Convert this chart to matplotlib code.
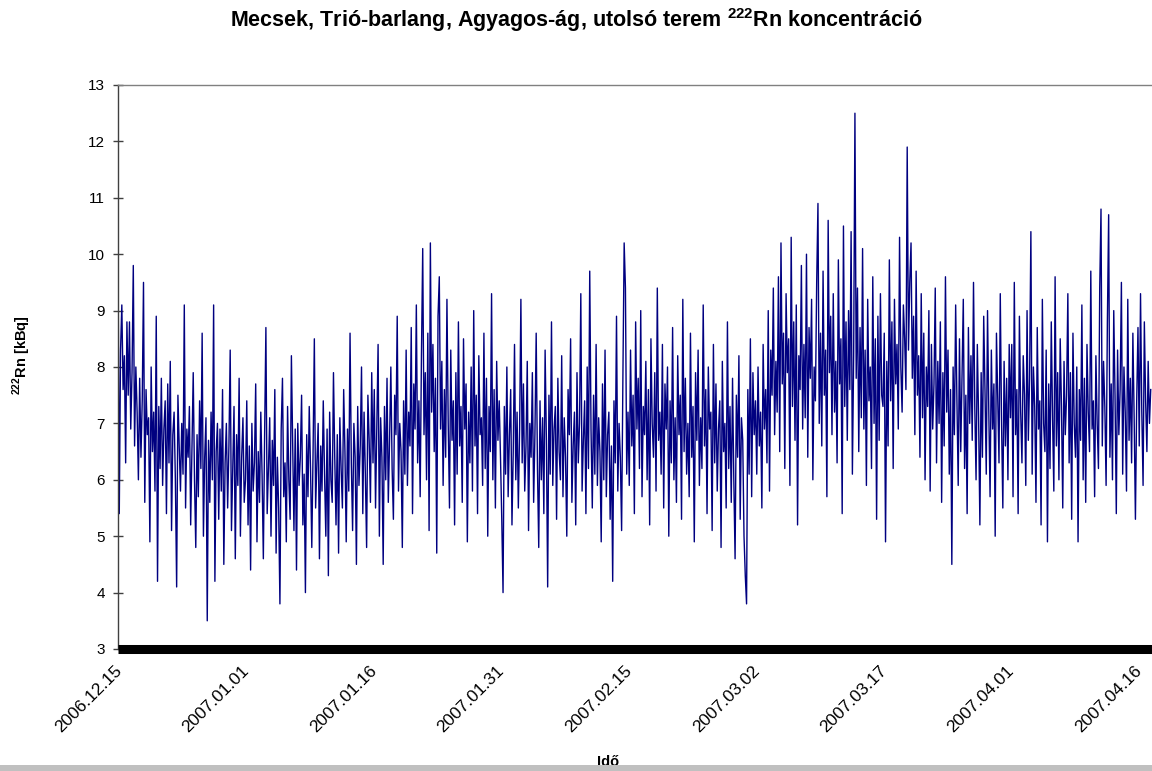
import numpy as np
import matplotlib
matplotlib.use('Agg')
import matplotlib.pyplot as plt
import matplotlib.transforms as mtransforms
from matplotlib.patches import Rectangle

plt.rcParams['font.family'] = ['Liberation Sans', 'DejaVu Sans']
plt.rcParams['mathtext.fontset'] = 'custom'
plt.rcParams['mathtext.rm'] = 'Liberation Sans'
plt.rcParams['mathtext.bf'] = 'Liberation Sans:bold'

# 222Rn [kBq], egy tömb a két címkézett dátum közötti szakaszonként
dec15_jan01 = [10.0, 5.4, 8.3, 9.1, 7.6, 8.2, 6.3, 8.8, 7.5, 8.8, 6.9, 7.9, 9.8, 6.6, 8.0, 7.2, 6.0, 7.8, 6.4, 7.4,
               9.5, 5.6, 7.6, 6.8, 7.1, 4.9, 8.0, 6.5, 7.2, 5.8, 8.9, 4.2, 7.3, 6.2, 7.8, 5.9, 6.9, 7.4, 5.4, 7.7,
               6.3, 8.1, 5.1, 6.8, 7.2, 6.0, 4.1, 7.5, 6.6, 5.8, 7.0, 6.1, 9.1, 5.5, 6.9, 6.4, 7.3, 5.2, 6.6, 7.9,
               6.0, 4.8, 6.8, 5.7, 7.4, 6.2, 8.6, 5.0, 6.4, 7.1, 3.5, 6.7, 5.6, 7.2, 6.0, 9.1, 4.2, 6.5, 7.0, 5.3,
               6.9, 5.8, 7.6, 4.5, 6.3, 7.0, 5.5, 6.6, 8.3, 5.1, 6.2, 7.3, 4.6, 6.8, 5.9, 7.8, 5.0, 6.4, 7.1, 5.6]
jan01_jan16 = [6.0, 7.4, 5.2, 6.6, 4.4, 7.0, 5.8, 6.3, 7.7, 4.9, 6.5, 5.6, 7.2, 6.1, 4.6, 6.8, 8.7, 5.4, 6.2, 7.1,
               5.0, 6.7, 5.9, 7.6, 4.7, 6.4, 5.5, 3.8, 6.9, 7.8, 5.7, 6.3, 4.9, 7.3, 6.0, 5.3, 8.2, 6.6, 5.1, 6.9,
               4.4, 7.0, 5.9, 6.4, 7.5, 5.2, 6.1, 4.0, 6.8, 5.7, 7.3, 6.2, 4.8, 6.5, 8.5, 5.5, 6.3, 7.0, 4.6, 6.6,
               5.8, 7.4, 6.1, 5.0, 6.9, 4.3, 7.2, 6.0, 5.6, 7.9, 6.4, 5.2, 6.8, 4.7, 7.1, 6.2, 5.5, 7.6, 6.5, 4.9,
               6.9, 5.8, 8.6, 6.3, 5.1, 7.0, 6.4, 4.5, 7.3, 5.9, 6.6, 8.0, 5.4, 7.2, 6.1, 4.8, 7.5, 6.7, 5.6, 7.9]
jan16_jan31 = [6.3, 7.6, 5.5, 6.9, 8.4, 5.0, 7.1, 6.4, 4.5, 7.3, 6.0, 7.8, 5.6, 6.7, 8.0, 6.2, 5.3, 7.5, 6.8, 8.9,
               5.8, 7.0, 6.5, 4.8, 7.4, 6.1, 8.3, 5.9, 7.2, 6.6, 8.7, 5.4, 7.7, 6.9, 9.1, 6.3, 7.4, 5.7, 8.2, 10.1,
               6.8, 7.9, 6.0, 8.6, 5.1, 10.2, 7.2, 8.4, 6.5, 7.8, 4.7, 8.9, 9.6, 6.9, 8.1, 5.9, 7.6, 6.4, 9.2, 7.0,
               5.5, 8.3, 6.7, 7.4, 5.2, 7.9, 6.1, 8.8, 6.6, 7.3, 5.6, 8.5, 6.9, 7.7, 4.9, 7.2, 6.3, 8.0, 5.8, 9.0,
               6.6, 7.5, 5.4, 8.2, 6.8, 7.1, 5.9, 8.6, 6.2, 7.8, 5.0, 7.3, 6.5, 9.3, 6.0, 7.6, 5.5, 8.1, 6.7, 7.4]
jan31_feb15 = [6.4, 5.3, 4.0, 7.3, 6.1, 8.0, 5.7, 6.8, 7.6, 5.2, 6.5, 8.4, 6.0, 7.2, 5.5, 6.9, 9.2, 6.3, 7.7, 5.8,
               6.6, 8.1, 5.1, 7.0, 6.4, 7.9, 5.6, 6.8, 8.6, 6.2, 4.8, 7.4, 6.0, 7.1, 5.4, 8.3, 6.7, 4.1, 7.5, 6.1,
               8.8, 5.9, 6.9, 7.3, 5.3, 7.8, 6.5, 6.0, 8.2, 5.7, 7.1, 6.4, 5.0, 7.6, 6.8, 8.5, 5.6, 6.6, 7.2, 5.2,
               7.9, 6.3, 7.0, 9.3, 5.8, 6.7, 7.4, 5.4, 8.0, 6.2, 9.7, 6.9, 5.5, 7.5, 6.1, 8.4, 5.9, 7.1, 6.5, 4.9,
               7.7, 6.0, 8.3, 5.7, 6.8, 7.2, 5.3, 6.6, 4.2, 7.4, 6.3, 8.9, 5.8, 7.0, 6.4, 5.1, 7.8, 10.2, 9.4, 6.1]
feb15_mar02 = [7.2, 5.9, 8.3, 6.6, 7.5, 5.4, 8.8, 6.9, 7.8, 6.2, 9.0, 5.7, 7.3, 6.8, 8.1, 6.0, 7.6, 5.2, 8.5, 7.0,
               6.4, 7.9, 5.8, 9.4, 6.7, 7.2, 6.1, 8.4, 5.5, 7.7, 6.9, 8.0, 5.0, 7.4, 6.3, 8.7, 6.0, 7.1, 5.6, 8.2,
               6.8, 7.5, 5.3, 9.2, 6.5, 7.8, 6.1, 7.0, 5.7, 8.6, 6.4, 7.3, 4.9, 7.9, 6.7, 8.3, 5.9, 7.1, 6.2, 9.1,
               6.6, 7.6, 5.4, 8.0, 6.9, 7.2, 5.1, 8.4, 6.3, 7.7, 5.8, 6.9, 7.4, 4.8, 8.1, 6.5, 7.0, 5.5, 8.8, 6.2,
               7.3, 5.6, 7.8, 6.0, 4.6, 7.5, 6.4, 8.2, 5.3, 7.1, 6.7, 5.0, 4.3, 3.8, 7.6, 6.1, 8.5, 5.7, 7.9, 6.8]
mar02_mar17 = [7.4, 6.1, 8.0, 6.6, 7.2, 5.5, 8.4, 6.9, 7.6, 6.3, 9.0, 5.8, 8.3, 7.5, 9.4, 6.8, 8.1, 7.2, 9.6, 6.5,
               10.2, 7.7, 8.6, 6.2, 9.3, 7.9, 8.5, 5.9, 10.3, 7.3, 8.8, 6.7, 9.1, 5.2, 8.2, 7.6, 9.8, 6.9, 8.4, 7.1,
               10.0, 6.4, 8.7, 7.8, 9.2, 6.0, 8.0, 7.4, 9.5, 10.9, 7.0, 8.6, 6.6, 9.7, 7.5, 8.3, 5.7, 10.6, 7.9, 8.9,
               6.8, 9.3, 7.2, 8.1, 6.3, 9.9, 7.7, 8.5, 5.4, 10.5, 7.3, 8.8, 6.7, 9.0, 7.6, 10.4, 6.1, 8.2, 12.5, 7.8,
               9.4, 6.5, 8.7, 7.1, 10.1, 6.9, 8.3, 5.9, 9.2, 7.4, 8.0, 6.2, 9.6, 7.0, 8.5, 5.3, 8.9, 6.7, 9.3, 7.5]
mar17_apr01 = [7.3, 8.6, 4.9, 8.1, 6.6, 9.9, 7.4, 8.8, 6.2, 9.2, 7.7, 8.4, 6.9, 10.3, 8.0, 7.2, 9.1, 8.5, 7.6, 11.9,
               8.3, 9.5, 10.2, 7.8, 8.9, 6.8, 9.7, 7.5, 8.2, 6.4, 9.3, 7.1, 8.6, 6.0, 8.0, 7.3, 9.0, 5.8, 8.4, 6.9,
               7.7, 9.4, 6.3, 8.1, 7.0, 8.8, 5.6, 7.9, 6.6, 9.6, 7.2, 8.3, 6.1, 7.6, 4.5, 8.0, 6.8, 9.1, 7.4, 5.9,
               8.5, 6.5, 7.8, 9.2, 6.2, 7.5, 5.4, 8.7, 7.0, 8.2, 6.7, 9.5, 7.3, 6.0, 8.4, 7.1, 5.2, 7.9, 6.4, 8.9,
               7.6, 6.1, 9.0, 7.2, 5.7, 8.3, 6.9, 7.7, 5.0, 8.6, 7.4, 6.3, 9.3, 7.0, 5.5, 8.1, 6.6, 7.8, 6.0, 8.4]
apr01_apr16 = [7.1, 8.4, 5.7, 9.5, 6.8, 7.6, 5.4, 8.9, 7.2, 6.3, 8.2, 7.5, 5.9, 9.0, 6.7, 7.8, 10.4, 6.1, 8.0, 7.3,
               5.6, 8.7, 6.9, 7.4, 5.2, 9.2, 7.0, 6.5, 8.3, 4.9, 7.7, 6.2, 8.8, 7.1, 5.8, 9.6, 6.6, 7.9, 6.0, 8.5,
               7.3, 5.5, 8.1, 6.8, 7.5, 9.3, 6.3, 7.9, 5.3, 8.6, 7.0, 6.4, 8.0, 4.9, 7.6, 6.7, 9.1, 6.0, 7.8, 5.6,
               8.4, 7.2, 6.5, 9.7, 6.9, 7.4, 5.7, 8.2, 7.0, 6.2, 9.4, 10.8, 6.6, 8.1, 7.3, 5.9, 8.8, 10.7, 6.4, 7.7,
               6.0, 9.0, 7.5, 5.4, 8.3, 6.8, 7.6, 9.5, 6.1, 8.0, 7.2, 5.8, 9.2, 6.7, 7.8, 6.3, 8.6, 7.1, 5.3, 7.4]
apr16_end = [8.7, 6.6, 9.3, 7.2, 5.9, 8.8, 7.4, 6.5, 8.1, 7.0, 7.6]

date_labels = ['2006.12.15', '2007.01.01', '2007.01.16', '2007.01.31', '2007.02.15',
               '2007.03.02', '2007.03.17', '2007.04.01', '2007.04.16']

segments = [dec15_jan01, jan01_jan16, jan16_jan31, jan31_feb15, feb15_mar02,
            mar02_mar17, mar17_apr01, apr01_apr16, apr16_end]
rn = np.concatenate(segments)
x = np.arange(len(rn))
tick_pos = np.cumsum([0] + [len(s) for s in segments[:-1]])

fig = plt.figure(figsize=(11.52, 7.71), dpi=100, facecolor='white')
ax = fig.add_axes([118 / 1152, 122 / 771, 1 - 118 / 1152, 564 / 771])

ax.plot(x, rn, color='#000080', linewidth=1.0)

ax.set_xlim(0, len(rn))
ax.set_ylim(3, 13)
ax.set_yticks(range(3, 14))
ax.set_xticks(tick_pos)
ax.set_xticklabels(date_labels, rotation=45, ha='right', rotation_mode='anchor')
ax.tick_params(axis='x', length=0, pad=10, labelsize=12.5)
ax.tick_params(axis='y', direction='inout', length=7, width=1, color='#404040', pad=6, labelsize=11)
shift = mtransforms.ScaledTranslation(-4 / 100, 0, fig.dpi_scale_trans)
for lab in ax.get_xticklabels():
    lab.set_transform(lab.get_transform() + shift)

ax.spines['right'].set_visible(False)
ax.spines['top'].set_color('#808080')
ax.spines['top'].set_linewidth(1)
ax.spines['left'].set_color('#404040')
ax.spines['left'].set_linewidth(1)
ax.spines['bottom'].set_color('black')
ax.spines['bottom'].set_linewidth(6.5)
ax.spines['bottom'].set_capstyle('butt')

fig.text(0.5, 1 - 20 / 771, r'Mecsek, Trió-barlang, Agyagos-ág, utolsó terem $^{\mathbf{222}}$Rn koncentráció',
         ha='center', va='center', fontsize=15.5, fontweight='bold')
fig.text(22 / 1152, 1 - 355 / 771, r'$^{\mathbf{222}}$Rn [kBq]', rotation=90,
         ha='center', va='center', fontsize=10.5, fontweight='bold')
fig.text(608 / 1152, 1 - 762 / 771, 'Idő', ha='center', va='center', fontsize=10.5, fontweight='bold')

# szürke sáv a kép alján
fig.patches.append(Rectangle((0, 0), 1, 6 / 771, transform=fig.transFigure,
                             facecolor='#c0c0c0', edgecolor='none', zorder=5))

plt.savefig('out.png', dpi=100, facecolor='white')
